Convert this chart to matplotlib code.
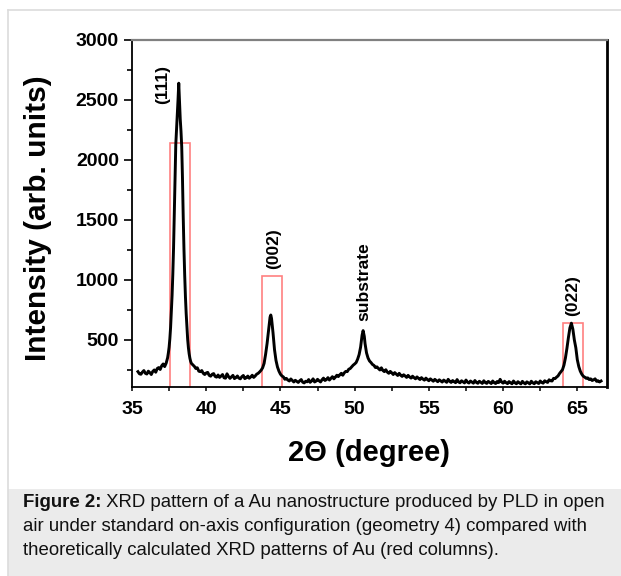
import matplotlib
matplotlib.use("Agg")
import matplotlib.pyplot as plt
import numpy as np
from matplotlib.ticker import MultipleLocator
from matplotlib.patches import Rectangle
from matplotlib.lines import Line2D

plt.rcParams['font.family'] = ['Liberation Sans', 'DejaVu Sans']

# ---------------- data ----------------
# background before (111)
seg_a_x = [35.4, 35.5, 35.6, 35.7, 35.8, 35.9, 36.0, 36.1, 36.2, 36.3,
           36.4, 36.5, 36.6, 36.7, 36.8, 36.9, 37.0, 37.1, 37.2, 37.3]
seg_a_y = [236, 218, 214, 232, 245, 222, 216, 240, 228, 212,
           238, 250, 231, 262, 270, 254, 285, 300, 278, 306]
# (111) peak
seg_b_x = [37.35, 37.40, 37.45, 37.50, 37.55, 37.60, 37.65, 37.70, 37.75, 37.80,
           37.85, 37.90, 37.95, 38.00, 38.05, 38.10, 38.15, 38.20, 38.25, 38.30,
           38.35, 38.40, 38.45, 38.50, 38.55, 38.60, 38.65, 38.70, 38.75, 38.80,
           38.85, 38.90, 38.95, 39.00]
seg_b_y = [330, 352, 392, 440, 510, 605, 730, 870, 1050, 1270,
           1550, 1870, 2130, 2250, 2360, 2500, 2640, 2490, 2340, 2240,
           2110, 1850, 1530, 1260, 1040, 860, 720, 605, 505, 435,
           385, 348, 322, 305]
# background between (111) and (002)
seg_c_x = [39.1, 39.2, 39.3, 39.4, 39.5, 39.6, 39.7, 39.8, 39.9, 40.0,
           40.1, 40.2, 40.3, 40.4, 40.5, 40.6, 40.7, 40.8, 40.9, 41.0,
           41.1, 41.2, 41.3, 41.4, 41.5, 41.6, 41.7, 41.8, 41.9, 42.0,
           42.1, 42.2, 42.3, 42.4, 42.5, 42.6, 42.7, 42.8, 42.9, 43.0,
           43.1, 43.2, 43.3, 43.4, 43.5, 43.6]
seg_c_y = [292, 280, 262, 268, 240, 236, 245, 222, 212, 225,
           230, 205, 198, 214, 220, 196, 190, 208, 188, 199,
           212, 185, 181, 218, 196, 180, 192, 205, 178, 186,
           200, 182, 176, 194, 204, 178, 185, 199, 181, 192,
           206, 188, 200, 215, 222, 234]
# (002) peak
seg_d_x = [43.7, 43.8, 43.9, 44.0, 44.1, 44.2, 44.3, 44.35, 44.4, 44.5,
           44.6, 44.7, 44.8, 44.9, 45.0, 45.1]
seg_d_y = [248, 268, 305, 380, 470, 580, 690, 708, 680, 560,
           420, 330, 275, 240, 215, 200]
# background between (002) and substrate
seg_e_x = [45.2, 45.3, 45.4, 45.5, 45.6, 45.7, 45.8, 45.9, 46.0, 46.1,
           46.2, 46.3, 46.4, 46.5, 46.6, 46.7, 46.8, 46.9, 47.0, 47.1,
           47.2, 47.3, 47.4, 47.5, 47.6, 47.7, 47.8, 47.9, 48.0, 48.1,
           48.2, 48.3, 48.4, 48.5, 48.6, 48.7, 48.8, 48.9, 49.0, 49.1,
           49.2, 49.3, 49.4, 49.5, 49.6, 49.7, 49.8, 49.9]
seg_e_y = [192, 172, 180, 166, 158, 175, 162, 150, 164, 155,
           146, 160, 170, 148, 142, 156, 151, 170, 147, 158,
           176, 150, 157, 172, 160, 150, 168, 182, 162, 170,
           186, 166, 180, 194, 176, 190, 206, 195, 210, 222,
           206, 226, 238, 236, 256, 262, 276, 290]
# substrate peak
seg_f_x = [50.0, 50.1, 50.2, 50.3, 50.4, 50.5, 50.57, 50.65, 50.7, 50.8,
           50.9, 51.0, 51.1, 51.2]
seg_f_y = [300, 312, 340, 378, 440, 540, 578, 530, 470, 392,
           350, 325, 312, 296]
# background between substrate and (022)
seg_g_x = [51.3, 51.4, 51.5, 51.6, 51.7, 51.8, 51.9, 52.0, 52.1, 52.2,
           52.3, 52.4, 52.5, 52.6, 52.7, 52.8, 52.9, 53.0, 53.1, 53.2,
           53.3, 53.4, 53.5, 53.6, 53.7, 53.8, 53.9, 54.0, 54.1, 54.2,
           54.3, 54.4, 54.5, 54.6, 54.7, 54.8, 54.9, 55.0, 55.1, 55.2,
           55.3, 55.4, 55.5, 55.6, 55.7, 55.8, 55.9, 56.0, 56.1, 56.2,
           56.3, 56.4, 56.5, 56.6, 56.7, 56.8, 56.9, 57.0, 57.1, 57.2,
           57.3, 57.4, 57.5, 57.6, 57.7, 57.8, 57.9, 58.0, 58.1, 58.2,
           58.3, 58.4, 58.5, 58.6, 58.7, 58.8, 58.9, 59.0, 59.1, 59.2,
           59.3, 59.4, 59.5, 59.6, 59.7, 59.8, 59.9, 60.0, 60.1, 60.2,
           60.3, 60.4, 60.5, 60.6, 60.7, 60.8, 60.9, 61.0, 61.1, 61.2,
           61.3, 61.4, 61.5, 61.6, 61.7, 61.8, 61.9, 62.0, 62.1, 62.2,
           62.3, 62.4, 62.5, 62.6, 62.7, 62.8, 62.9, 63.0, 63.1, 63.2,
           63.3, 63.4, 63.5, 63.6, 63.7, 63.8, 63.9]
seg_g_y = [288, 270, 276, 262, 250, 268, 246, 236, 252, 232,
           222, 238, 226, 212, 228, 216, 204, 222, 206, 196,
           210, 200, 188, 205, 192, 182, 198, 186, 176, 192,
           180, 170, 186, 174, 165, 182, 170, 160, 176, 166,
           156, 172, 162, 152, 168, 158, 149, 166, 156, 147,
           172, 155, 146, 162, 152, 144, 170, 150, 143, 160,
           151, 142, 166, 148, 141, 158, 149, 140, 162, 146,
           139, 156, 147, 138, 160, 145, 138, 155, 146, 137,
           158, 144, 137, 154, 145, 172, 150, 140, 156, 144,
           136, 153, 143, 135, 158, 143, 135, 152, 142, 134,
           155, 142, 134, 151, 142, 134, 156, 143, 135, 152,
           144, 137, 158, 146, 140, 160, 152, 146, 168, 160,
           158, 180, 178, 190, 200, 220, 236]
# (022) peak
seg_h_x = [64.0, 64.1, 64.2, 64.3, 64.4, 64.5, 64.6, 64.7, 64.8, 64.9,
           65.0, 65.1, 65.2, 65.3, 65.4]
seg_h_y = [252, 290, 350, 430, 520, 600, 640, 590, 500, 435,
           335, 278, 240, 215, 198]
# tail
seg_i_x = [65.5, 65.6, 65.7, 65.8, 65.9, 66.0, 66.1, 66.2, 66.3, 66.4, 66.5, 66.6]
seg_i_y = [190, 180, 184, 170, 176, 162, 168, 176, 155, 160, 150, 158]

# theoretical Au pattern (red columns)
theo_pos = [38.23, 44.45, 64.69]
theo_int = [2145, 1033, 639]
theo_width = 1.32

peak_labels = ['(111)', '(002)', 'substrate', '(022)']
peak_label_x = [37.05, 44.51, 50.61, 64.66]
peak_label_y = [2625, 1258, 983, 867]

x_ticks = [35, 40, 45, 50, 55, 60, 65]
y_ticks = [500, 1000, 1500, 2000, 2500, 3000]

caption_bold = 'Figure 2:'
caption_lines = [' XRD pattern of a Au nanostructure produced by PLD in open',
                 'air under standard on-axis configuration (geometry 4) compared with',
                 'theoretically calculated XRD patterns of Au (red columns).']

# ---------------- figure ----------------
W, H = 621, 576
fig = plt.figure(figsize=(W / 100, H / 100), dpi=100)
fig.patch.set_facecolor('white')

def fx(px):
    return px / W

def fy(py):
    return 1 - py / H

# outer frame + caption box
fig.add_artist(Rectangle((fx(7.5), 0), 1 - fx(7.5), fy(489), transform=fig.transFigure,
                         facecolor='#ebebeb', edgecolor='none', zorder=0))
fig.add_artist(Line2D([fx(7.5), 1], [fy(9.5), fy(9.5)], transform=fig.transFigure,
                      color='#dcdcdc', lw=1.2))
fig.add_artist(Line2D([fx(7.5), fx(7.5)], [fy(9.5), 0], transform=fig.transFigure,
                      color='#dcdcdc', lw=1.2))

ax = fig.add_axes([fx(132), fy(387), 475 / W, 347 / H])

two_theta = np.concatenate([seg_a_x, seg_b_x, seg_c_x, seg_d_x, seg_e_x,
                            seg_f_x, seg_g_x, seg_h_x, seg_i_x])
intensity = np.concatenate([seg_a_y, seg_b_y, seg_c_y, seg_d_y, seg_e_y,
                            seg_f_y, seg_g_y, seg_h_y, seg_i_y])

ax.bar(theo_pos, theo_int, width=theo_width, bottom=0, fill=False,
       edgecolor='#ff8080', linewidth=1.2, zorder=1)
ax.plot(two_theta, intensity, color='black', lw=2.1, zorder=2, solid_joinstyle='round')

for s, x, y in zip(peak_labels, peak_label_x, peak_label_y):
    ax.text(x, y, s, rotation=90, ha='center', va='center',
            fontsize=12.5, fontweight='bold')

ax.set_xlim(35, 67)
ax.set_ylim(108, 3000)

ax.set_xticks(x_ticks, [str(t) for t in x_ticks], fontweight='bold', fontsize=14)
ax.set_yticks(y_ticks, [str(t) for t in y_ticks], fontweight='bold', fontsize=14)
ax.xaxis.set_minor_locator(MultipleLocator(2.5))
ax.yaxis.set_minor_locator(MultipleLocator(250))

ax.tick_params(axis='y', which='major', direction='out', length=5.8, width=1.2, pad=3.6)
ax.tick_params(axis='y', which='minor', direction='out', length=3.6, width=1.2)
ax.tick_params(axis='x', which='both', direction='out', length=3.0, width=1.1, pad=7.2)
ax.tick_params(top=False, right=False)

ax.spines['left'].set_linewidth(1.3)
ax.spines['bottom'].set_linewidth(1.3)
ax.spines['right'].set_linewidth(2.0)
ax.spines['top'].set_linewidth(1.6)
ax.spines['top'].set_color('#808080')

fig.text(fx(369), fy(453), '2\u0398 (degree)', ha='center', va='center',
         fontsize=21, fontweight='bold')
fig.text(fx(38), fy(218), 'Intensity (arb. units)', ha='center', va='center',
         rotation=90, fontsize=21.5, fontweight='bold')

# caption
cap_fs = 13.4
baselines = [507, 531, 555]
t0 = fig.text(fx(22.7), fy(baselines[0]), caption_bold, fontsize=cap_fs,
              fontweight='bold', va='baseline', ha='left', color='#111111')
fig.canvas.draw()
bb = t0.get_window_extent(renderer=fig.canvas.get_renderer())
fig.text(bb.x1 / W, fy(baselines[0]), caption_lines[0], fontsize=cap_fs,
         va='baseline', ha='left', color='#111111')
for line, b in zip(caption_lines[1:], baselines[1:]):
    fig.text(fx(22.7), fy(b), line, fontsize=cap_fs, va='baseline', ha='left',
             color='#111111')

fig.savefig('out.png', dpi=100)
